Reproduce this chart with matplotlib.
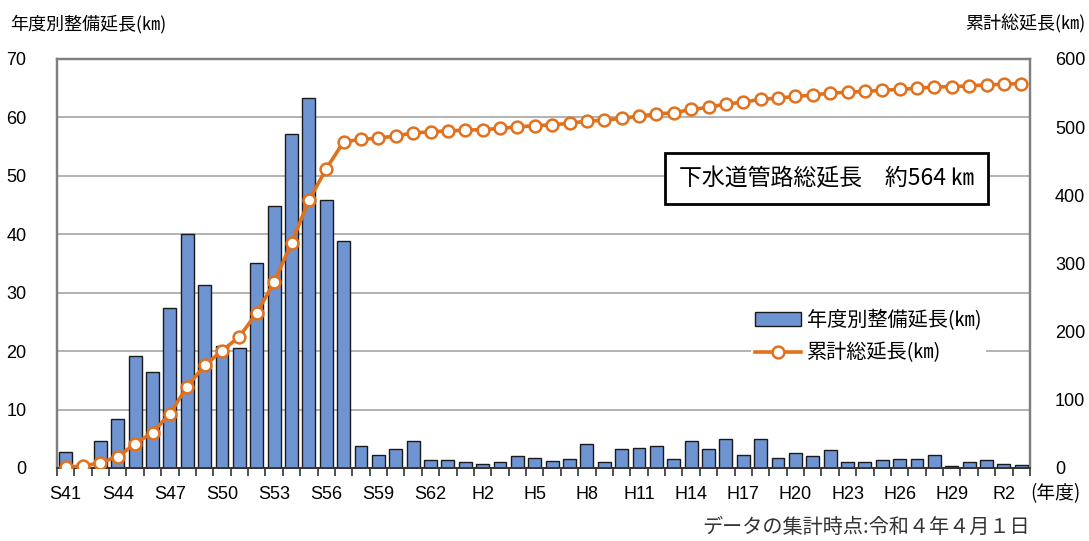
import matplotlib.pyplot as plt
import numpy as np

plt.rcParams['font.family'] = ['Liberation Sans', 'Noto Sans CJK JP', 'DejaVu Sans']

# 年度ラベル (S41 ～ R3)
nendo = ([f'S{y}' for y in range(41, 64)] +
         [f'H{y}' for y in range(1, 31)] +
         ['R1', 'R2', 'R3'])

# 年度別整備延長 (km)
seibi_enchou = [2.7, 0.9, 4.7, 8.3, 19.1, 16.4, 27.4, 40.0, 31.4, 20.8,
                20.6, 35.1, 44.9, 57.1, 63.3, 45.8, 38.9, 3.8, 2.3, 3.2,
                4.6, 1.3, 1.4, 1.1, 0.6, 1.0, 2.0, 1.7, 1.2, 1.6,
                4.1, 1.0, 3.2, 3.4, 3.7, 1.5, 4.7, 3.2, 5.0, 2.2,
                5.0, 1.7, 2.5, 2.0, 3.0, 1.0, 1.1, 1.3, 1.5, 1.6,
                2.2, 0.3, 1.1, 1.3, 0.6, 0.5]

# 累計総延長 (km)
ruikei = [1.5, 2.5, 8.0, 16.5, 35.5, 52.0, 79.5, 119.5, 150.5, 172.0,
          192.5, 227.5, 272.5, 330.0, 392.5, 439.0, 478.5, 482.0, 484.0, 487.0,
          491.5, 493.0, 494.5, 495.5, 496.5, 498.0, 500.5, 502.0, 503.5, 505.5,
          509.0, 510.0, 513.0, 516.0, 519.5, 521.0, 526.0, 529.0, 534.0, 536.5,
          541.0, 542.5, 545.0, 547.0, 550.0, 551.0, 552.5, 554.0, 555.5, 557.0,
          559.0, 559.5, 560.5, 562.0, 563.0, 564.0]

x = np.arange(len(nendo))
jp = ['Noto Sans CJK JP', 'DejaVu Sans']

fig = plt.figure(figsize=(10.89, 5.41), dpi=100)
ax = fig.add_axes([0.0523, 0.135, 0.8935, 0.756])
ax2 = ax.twinx()

bars = ax.bar(x, seibi_enchou, width=0.74, color='#6F94D2', edgecolor='#1a1a1a',
              linewidth=1.0, label='年度別整備延長(㎞)', zorder=3)
line, = ax2.plot(x, ruikei, color='#E2711D', lw=2.6, marker='o', ms=8.5,
                 mfc='white', mec='#E2711D', mew=1.8, label='累計総延長(㎞)', zorder=4)

ax.set_xlim(-0.5, len(nendo) - 0.5)
ax.set_ylim(0, 70)
ax2.set_ylim(0, 600)
ax.set_yticks(np.arange(0, 71, 10))
ax2.set_yticks(np.arange(0, 601, 100))
ax.yaxis.grid(True, color='#a6a6a6', lw=1.2, zorder=0)
ax.set_axisbelow(True)

# 目盛り
ax.set_xticks(x[::3])
ax.set_xticklabels(nendo[::3], fontsize=13)
ax.set_xticks(np.arange(-0.5, len(nendo), 1), minor=True)
ax.tick_params(axis='x', which='major', length=0, pad=13)
ax.tick_params(axis='x', which='minor', length=6, width=1.2, color='#333333', direction='out')
ax.tick_params(axis='y', length=0, labelsize=13, pad=22)
ax2.tick_params(axis='y', length=0, labelsize=13, pad=18)

for a in (ax, ax2):
    for s in ('left', 'right', 'top'):
        a.spines[s].set_color('#7f7f7f')
        a.spines[s].set_linewidth(1.6)
    a.spines['bottom'].set_color('#333333')
    a.spines['bottom'].set_linewidth(1.3)

ax.set_zorder(ax2.get_zorder() - 1)
ax.patch.set_visible(True)
ax2.patch.set_visible(False)

# 軸タイトル
fig.text(0.009, 0.955, '年度別整備延長(㎞)', fontsize=13, ha='left', va='center', family=jp)
fig.text(0.997, 0.955, '累計総延長(㎞)', fontsize=13, ha='right', va='center', family=jp)
fig.text(0.946, 0.088, '(年度)', fontsize=13.5, ha='left', va='center', family=jp)

# 総延長ボックス
ax2.text(0.791, 0.708, '下水道管路総延長　約564 ㎞', transform=ax.transAxes,
         fontsize=16.5, ha='center', va='center', zorder=6, family=jp,
         bbox=dict(boxstyle='square,pad=0.6', fc='white', ec='black', lw=2))

leg = ax2.legend([bars, line], ['年度別整備延長(㎞)', '累計総延長(㎞)'],
                 loc='upper left', bbox_to_anchor=(0.703, 0.42), frameon=True,
                 fancybox=False, edgecolor='none', facecolor='white', framealpha=1,
                 prop={'family': jp, 'size': 14.5},
                 handlelength=2.3, handletextpad=0.3, labelspacing=0.55, borderpad=0.2)

fig.text(0.946, 0.025, 'データの集計時点:令和４年４月１日', fontsize=14.5, ha='right',
         va='center', color='#333333', family=jp)

fig.savefig('out.png', dpi=100)
